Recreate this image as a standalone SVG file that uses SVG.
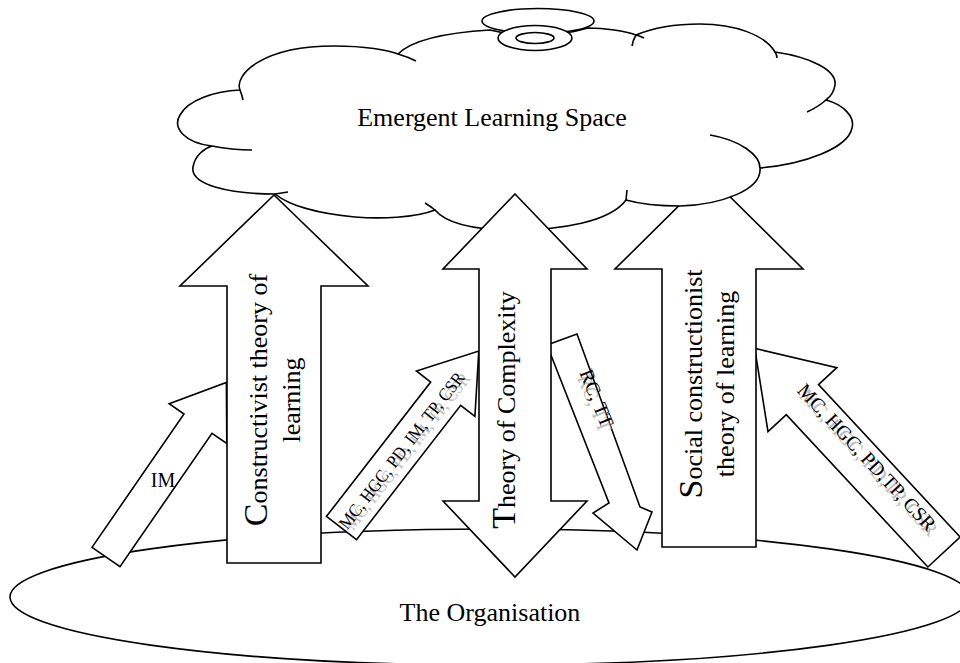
<svg xmlns="http://www.w3.org/2000/svg" width="960" height="663" viewBox="0 0 960 663">
<style>
.s{fill:#fff;stroke:#000;stroke-width:1.6;stroke-linejoin:miter}
.l{fill:none;stroke:#000;stroke-width:1.6}
.t{font-family:"Liberation Serif","Times New Roman",serif;fill:#000}
.g{font-family:"Liberation Serif","Times New Roman",serif;fill:#bcbcbc}
</style>
<rect width="960" height="663" fill="#fff"/>
<g id="organisation">
<ellipse class="s" cx="490" cy="597" rx="480" ry="68"/>
<text class="t" x="490" y="621" font-size="26" text-anchor="middle">The Organisation</text>
</g>
<g id="connectors">
<g id="arrow-im" transform="translate(106,557) rotate(-55.4)">
<polygon class="s" points="0,-17 162,-17 162,-35 212,0 162,35 162,17 0,17"/>
</g>
<text class="t" x="163" y="487" font-size="20" text-anchor="middle">IM</text>
<g id="arrow-mc-left" transform="translate(341.5,528) rotate(-52.2)">
<polygon class="s" points="0,-19 170,-19 170,-37 224,0 170,37 170,19 0,19"/>
<text class="g" x="101" y="11" font-size="18" text-anchor="middle" textLength="193" lengthAdjust="spacingAndGlyphs">MC, HGC, PD, IM, TP, CSR</text>
<text class="t" x="98" y="6" font-size="18" text-anchor="middle" textLength="193" lengthAdjust="spacingAndGlyphs">MC, HGC, PD, IM, TP, CSR</text>
</g>
<g id="arrow-rc">
<polygon class="s" points="547,345 577,334 640,507 652,512 637,550 593,513 609,503"/>
<g transform="translate(597,398) rotate(68)">
<text class="g" x="4" y="11" font-size="20" text-anchor="middle">RC, TT</text>
<text class="t" x="0" y="7" font-size="20" text-anchor="middle">RC, TT</text>
</g>
</g>
<g id="arrow-mc-right">
<polygon class="s" transform="translate(944,552) rotate(-132.9)" points="0,-22 208,-22 208,-47 278,0 208,47 208,22 0,22"/>
<g transform="translate(867,457) rotate(47.1)">
<text class="g" x="5" y="9" font-size="20" text-anchor="middle">MC, HGC, PD,TP, CSR</text>
<text class="t" x="0" y="7" font-size="20" text-anchor="middle">MC, HGC, PD,TP, CSR</text>
</g>
</g>
</g>
<g id="social">
<polygon class="s" points="709,176 803,269 756,269 756,547 662,547 662,269 615,269"/>
<text class="t" font-size="26" text-anchor="middle" transform="translate(709,384) rotate(-90)"><tspan x="0" y="-7"><tspan font-size="34">S</tspan>ocial constructionist</tspan><tspan x="0" y="25">theory of learning</tspan></text>
</g>
<g id="cloud">
<path class="s" d="M240,90 C234,75 262,46 334,46 C365,46 388,50 398,54 C410,42 440,33 490,30 Q540,42 588,28 C605,28 625,31 636,35 C655,27 680,24 700,24 C735,24 765,35 775,52 C810,57 837,70 835,85 C834,92 830,97 826,100 C845,105 855,118 852,128 C848,148 805,164 760,168 C762,190 720,205 680,206 C660,206 640,204 626,200 C610,222 560,230 515,230 C470,230 445,222 435,210 C415,218 380,219 355,217 C320,214 290,206 275,194 C230,194 190,185 193,167 C195,155 205,148 212,146 C185,143 172,128 180,115 C188,100 215,91 240,90 Z"/>
<path class="l" d="M398,54 Q408,57 416,61 M240,90 Q242,95 243,100 M636,35 Q640,36 644,38 M632,46 Q633,40 636,35 M775,52 Q777,55 777,58 M826,100 Q818,107 807,112 M710,135 C740,140 760,155 760,168 M626,200 L627,190 M435,210 Q430,206 425,203 M275,194 L288,192 M212,146 Q232,150 252,150"/>
<ellipse class="s" cx="538" cy="21" rx="56" ry="12.5"/>
<ellipse class="s" cx="535" cy="38" rx="37" ry="12.5"/>
<ellipse class="s" cx="535" cy="38" rx="19" ry="5.5"/>
<text class="t" x="492" y="126" font-size="26" text-anchor="middle">Emergent Learning Space</text>
</g>
<g id="constructivist">
<polygon class="s" points="274,195 368,286 321,286 321,563 227,563 227,286 180,286"/>
<text class="t" font-size="26" text-anchor="middle" transform="translate(274,400) rotate(-90)"><tspan x="0" y="-7"><tspan font-size="34">C</tspan>onstructivist theory of</tspan><tspan x="0" y="26">learning</tspan></text>
</g>
<g id="complexity">
<polygon class="s" points="515,194 587,269 551,269 551,501 587,501 515,577 443,501 479,501 479,269 443,269"/>
<text class="t" font-size="26" text-anchor="middle" transform="translate(515,410) rotate(-90)"><tspan font-size="34">T</tspan>heory of Complexity</text>
</g>
</svg>
